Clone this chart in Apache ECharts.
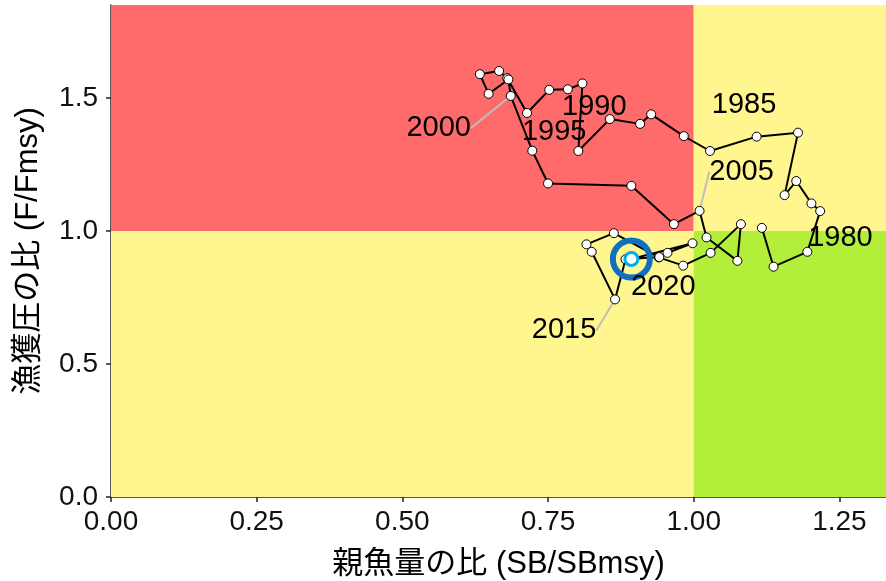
<!DOCTYPE html>
<html><head><meta charset="utf-8">
<script src="https://cdn.jsdelivr.net/npm/echarts@6/dist/echarts.min.js"></script>
<style>html,body{margin:0;padding:0;background:#fff}#c{width:886px;height:581px}</style>
</head><body><div id="c"></div>
<script>
// ---- data ----
const years = [1976,1977,1978,1979,1980,1981,1982,1983,1984,1985,
  1986,1987,1988,1989,1990,1991,1992,1993,1994,1995,
  1996,1997,1998,1999,2000,2001,2002,2003,2004,2005,
  2006,2007,2008,2009,2010,2011,2012,2013,2014,2015,
  2016,2017,2018,2019,2020];
const sbRatio = [1.117,1.137,1.195,1.217,1.202,1.176,1.156,1.179,1.108,1.028,
  0.983,0.927,0.908,0.856,0.802,0.809,0.784,0.752,0.714,0.680,
  0.666,0.633,0.648,0.682,0.686,0.723,0.750,0.893,0.966,1.010,
  1.022,1.075,1.081,1.029,0.982,0.940,0.863,0.816,0.825,0.865,
  0.883,0.941,0.955,0.998,0.893];
const fRatio = [1.012,0.866,0.922,1.075,1.104,1.188,1.135,1.370,1.355,1.301,
  1.357,1.439,1.403,1.421,1.301,1.555,1.533,1.531,1.444,1.575,
  1.602,1.590,1.516,1.570,1.508,1.302,1.179,1.170,1.026,1.076,
  0.976,0.888,1.026,0.918,0.870,0.901,0.992,0.950,0.922,0.743,
  0.894,0.902,0.918,0.954,0.895];
const labeledYears = [1980,1985,1990,1995,2000,2005,2015,2020];
const leaderYears = [2000,2005,2015];
const xTicks = [0,0.25,0.5,0.75,1,1.25];
const yTicks = [0,0.5,1,1.5];
const xMax = 1.33, yMax = 1.85, refLine = 1;

// ---- style ----
const labelShift = {1980:[29,35],1985:[34,-46],1990:[16,-44],1995:[47,54],
  2000:[-72,32],2005:[42,-39],2015:[-51,31],2020:[32,28]};
const fontNum = "'Liberation Sans', Arial, sans-serif";
const fontJP = "'Liberation Sans', 'Noto Sans CJK JP', sans-serif";

const last = sbRatio.length - 1;
const pts = sbRatio.map((x,i)=>{
  const yr = years[i];
  const item = {value:[x,fRatio[i]]};
  if (labeledYears.includes(yr)) {
    item.label = {show:true, formatter:String(yr)};
    item.labelLine = {show: leaderYears.includes(yr)};
  }
  return item;
});

const chart = echarts.init(document.getElementById('c'), null, {renderer:'canvas'});
chart.setOption({
  animation:false,
  grid:{left:111,right:0,top:5,bottom:84,outerBoundsMode:'none',containLabel:false},
  xAxis:{type:'value',min:0,max:xMax,
    name:'親魚量の比 (SB/SBmsy)',nameLocation:'middle',nameGap:52,
    nameTextStyle:{fontSize:31,color:'#000',fontFamily:fontJP},
    axisLine:{show:true,onZero:false,lineStyle:{color:'#222',width:1.5}},
    axisTick:{show:true,length:5,customValues:xTicks,lineStyle:{color:'#222',width:1.5}},
    axisLabel:{customValues:xTicks,fontSize:28,color:'#111',fontFamily:fontNum,margin:11,
      formatter:v=>v.toFixed(2)},
    splitLine:{show:false}},
  yAxis:{type:'value',min:0,max:yMax,
    name:'漁獲圧の比 (F/Fmsy)',nameLocation:'middle',nameGap:67,
    nameTextStyle:{fontSize:31,color:'#000',fontFamily:fontJP},
    axisLine:{show:true,onZero:false,lineStyle:{color:'#222',width:1.5}},
    axisTick:{show:true,length:5,customValues:yTicks,lineStyle:{color:'#222',width:1.5}},
    axisLabel:{customValues:yTicks,fontSize:28,color:'#111',fontFamily:fontNum,margin:13,
      formatter:v=>v.toFixed(1)},
    splitLine:{show:false}},
  series:[
    {type:'line',data:[],z:1,silent:true,
      markArea:{silent:true,data:[
        [{xAxis:0,yAxis:refLine,itemStyle:{color:'#FF6A6A'}},{xAxis:refLine,yAxis:yMax}],
        [{xAxis:refLine,yAxis:refLine,itemStyle:{color:'#FFF68F'}},{xAxis:xMax,yAxis:yMax}],
        [{xAxis:0,yAxis:0,itemStyle:{color:'#FFF68F'}},{xAxis:refLine,yAxis:refLine}],
        [{xAxis:refLine,yAxis:0,itemStyle:{color:'#B3EE3A'}},{xAxis:xMax,yAxis:refLine}]
      ]}},
    {type:'line',z:3,data:sbRatio.map((x,i)=>[x,fRatio[i]]),showSymbol:false,symbol:'none',
      lineStyle:{color:'#000',width:2},silent:true},
    {type:'scatter',z:4,data:[[sbRatio[last],fRatio[last]]],symbol:'circle',symbolSize:37,
      itemStyle:{color:'rgba(0,0,0,0)',borderColor:'#0E70BE',borderWidth:6,opacity:1},silent:true},
    {type:'scatter',z:5,data:pts,symbol:'circle',symbolSize:9,
      itemStyle:{color:'#fff',borderColor:'#000',borderWidth:1,opacity:1},
      label:{show:false,position:'inside',fontSize:29,color:'#000',fontFamily:fontNum},
      labelLine:{show:false,lineStyle:{color:'#BEBEBE',width:2}},
      labelLayout:function(p){
        const yr = years[p.dataIndex];
        const d = labelShift[yr];
        if(!d) return {};
        return {dx:d[0],dy:d[1]};
      },silent:true},
    {type:'scatter',z:6,data:[[sbRatio[last],fRatio[last]]],symbol:'circle',symbolSize:13,
      itemStyle:{color:'#fff',borderColor:'#00AEEF',borderWidth:3,opacity:1},silent:true}
  ]
});
</script></body></html>
